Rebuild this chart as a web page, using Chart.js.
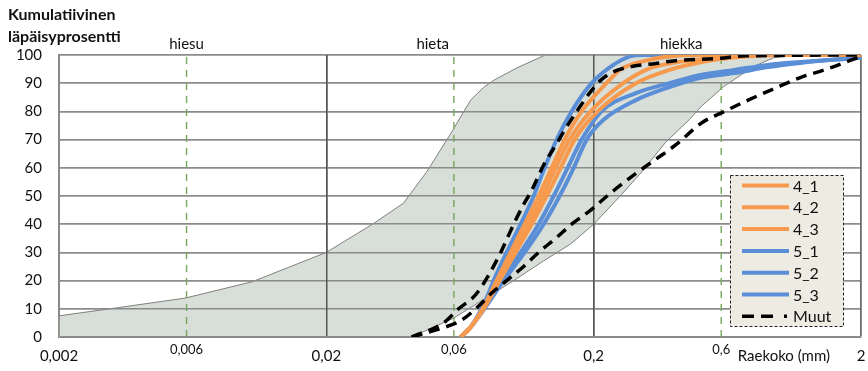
<!DOCTYPE html>
<html>
<head>
<meta charset="utf-8">
<script src="https://cdn.jsdelivr.net/npm/chart.js@4.4.1/dist/chart.umd.min.js"></script>
<style>
  html, body { margin: 0; padding: 0; background: #ffffff; }
  #wrap { width: 868px; height: 371px; position: relative; }
</style>
</head>
<body>
<div id="wrap"><canvas id="grading" width="868" height="371"></canvas></div>
<script>
// ---- Grain size distribution data: size in mm, cumulative passing in % ----

// Envelope (ohjealue) boundaries
const bandFineSize = [0.002, 0.00338, 0.00593, 0.01057, 0.02, 0.0301, 0.0389, 0.0475, 0.0583, 0.0693, 0.0775, 0.0845, 0.103, 0.132];
const bandFinePass = [7.5, 10.5, 13.8, 19.6, 30, 40.3, 47.5, 58.6, 72, 84, 88.5, 91, 95.4, 100];
const bandCoarseSize = [0.0417, 0.0599, 0.0796, 0.1004, 0.130, 0.1641, 0.200, 0.2514, 0.3055, 0.3713, 0.455, 0.508, 0.617, 0.796, 0.943, 1.186];
const bandCoarsePass = [0, 6.7, 14, 20, 27, 33, 40, 50, 59, 69, 77, 82, 89, 96, 99, 100];

// Samples 4_1 ... 4_3
const size41 = [0.0636, 0.0693, 0.0769, 0.0867, 0.0978, 0.1104, 0.1245, 0.1393, 0.1558, 0.1804, 0.2233, 0.2535, 0.3134, 0.3841, 0.508, 2];
const pass41 = [0, 3.5, 10, 20, 30, 40, 50, 60, 70, 80, 90, 95, 98, 99.5, 100, 100];
const size42 = [0.0636, 0.0693, 0.0775, 0.0882, 0.1004, 0.1143, 0.1289, 0.1442, 0.1627, 0.1949, 0.2579, 0.3188, 0.3841, 0.508, 0.776, 2];
const pass42 = [0, 3.5, 10, 20, 30, 40, 50, 60, 70, 80, 90, 95, 97, 98.5, 100, 100];
const size43 = [0.0636, 0.0693, 0.0775, 0.089, 0.1021, 0.1173, 0.1334, 0.1505, 0.1698, 0.2069, 0.2879, 0.3841, 0.508, 0.655, 1.0, 2];
const pass43 = [0, 3.5, 10, 20, 30, 40, 50, 60, 70, 80, 90, 94.7, 97.5, 99, 100, 100];

// Samples 5_1 ... 5_3
const size51 = [0.0636, 0.0693, 0.0756, 0.081, 0.0845, 0.0945, 0.1066, 0.1193, 0.1311, 0.1454, 0.1655, 0.1966, 0.2369, 0.2737, 0.3055, 2];
const pass51 = [0, 3.5, 9.5, 15.6, 20, 30, 40, 50, 60, 70, 80, 90, 96.5, 99.5, 100, 100];
const size52 = [0.0636, 0.0693, 0.0775, 0.0905, 0.1066, 0.1245, 0.1417, 0.1599, 0.1804, 0.214, 0.2879, 0.3841, 0.508, 0.672, 0.896, 1.186, 1.568, 2];
const pass52 = [0, 3.5, 10, 20, 30, 40, 50, 60, 70, 80, 86.5, 90, 93, 94.7, 96.5, 97.5, 98.3, 99];
const size53 = [0.0636, 0.0693, 0.078, 0.0921, 0.1104, 0.130, 0.1492, 0.1684, 0.1883, 0.2177, 0.2879, 0.3841, 0.508, 0.672, 0.896, 1.186, 1.568, 2];
const pass53 = [0, 3.5, 10, 20, 30, 40, 50, 60, 70, 77, 84, 88.6, 92, 93.6, 95.7, 97.2, 98.3, 99];

// Other samples (Muut)
const sizeMuutA = [0.0417, 0.0549, 0.0625, 0.0724, 0.081, 0.0898, 0.1004, 0.1094, 0.1173, 0.130, 0.1442, 0.1572, 0.1758, 0.1949, 0.2122, 0.2369, 0.2807, 0.3411, 0.4041, 0.5867, 0.7439, 2];
const passMuutA = [0, 5, 10, 15, 22, 30, 40, 47, 52, 61, 68, 74, 81, 87, 91, 94, 96, 97, 98, 98.8, 99.7, 100];
const sizeMuutB = [0.0417, 0.0535, 0.0642, 0.0743, 0.0831, 0.0945, 0.1094, 0.1245, 0.1442, 0.1655, 0.1949, 0.231, 0.2879, 0.3411, 0.4041, 0.508, 0.6173, 0.7566, 0.9431, 1.186, 1.4905, 1.8113, 2];
const passMuutB = [0, 3, 6, 11, 15.6, 20, 25, 30, 35, 40, 45, 51, 58, 63, 68, 76, 80, 84, 88, 92, 95, 98, 99.5];

// Soil class limits and names
const zoneLimits = [0.006, 0.06, 0.6];
const zoneNames = ['hiesu', 'hieta', 'hiekka'];
const zoneNameAt = [0.006, 0.05, 0.425];

// Axis ticks
const xTickValues = [0.002, 0.006, 0.02, 0.06, 0.2, 0.6, 2];
const xTickLabels = ['0,002', '0,006', '0,02', '0,06', '0,2', '0,6', '2'];
const xSmallTicks = [0.006, 0.06, 0.6];
const xDecades = [0.02, 0.2];
const yTitle = ['Kumulatiivinen', 'läpäisyprosentti'];
const xTitle = 'Raekoko (mm)';

// ---- helpers ----
const pts = (xs, ys) => xs.map((x, i) => ({ x: x, y: ys[i] }));
const FONT = 'Lato, "Open Sans", sans-serif';
const ORANGE = '#F79A4E';
const BLUE = '#5A8ED6';
const tickText = (v) => xTickLabels[xTickValues.indexOf(v)];

// Envelope as a closed shape: along the bottom, up the fine limit, back down the coarse limit
const bandShape = [{ x: bandFineSize[0], y: 0 }]
  .concat(pts(bandFineSize, bandFinePass))
  .concat(pts(bandCoarseSize, bandCoarsePass).reverse());

const curve = (label, xs, ys, color) => ({
  label: label, data: pts(xs, ys), borderColor: color, backgroundColor: color,
  borderWidth: 4, pointRadius: 0, cubicInterpolationMode: 'monotone', fill: false, order: 1
});
const muut = (label, xs, ys, inLegend) => ({
  label: label, data: pts(xs, ys), borderColor: '#000000', borderWidth: 3.5,
  borderDash: [11, 7], pointRadius: 0, cubicInterpolationMode: 'monotone', fill: false,
  order: 0, inLegend: inLegend
});

const datasets = [
  curve('4_1', size41, pass41, ORANGE),
  curve('4_2', size42, pass42, ORANGE),
  curve('4_3', size43, pass43, ORANGE),
  curve('5_1', size51, pass51, BLUE),
  curve('5_2', size52, pass52, BLUE),
  curve('5_3', size53, pass53, BLUE),
  muut('Muut', sizeMuutA, passMuutA, true),
  muut('Muut', sizeMuutB, passMuutB, false)
];
zoneLimits.forEach(v => datasets.push({
  label: 'raja', data: [{ x: v, y: 0 }, { x: v, y: 100 }], borderColor: '#77A65A',
  borderWidth: 1.4, borderDash: [7, 6], pointRadius: 0, fill: false, order: 2, inLegend: false
}));
datasets.push({
  label: 'ohjealue', data: bandShape, borderColor: '#7f7f7f', borderWidth: 1,
  backgroundColor: '#D7DFD8', fill: 'shape', pointRadius: 0, tension: 0, order: 3,
  inLegend: false, isBand: true
});

// Grid lines are drawn again on top of the envelope fill, under the curves
const gridOverBand = {
  id: 'gridOverBand',
  afterDatasetDraw(chart, args) {
    if (chart.data.datasets[args.index].isBand) {
      chart.scales.y.drawGrid(chart.chartArea);
      chart.scales.x.drawGrid(chart.chartArea);
    }
  }
};

// Texts and the legend box
const annotations = {
  id: 'annotations',
  afterDraw(chart) {
    const ctx = chart.ctx;
    const xs = chart.scales.x;
    const area = chart.chartArea;
    ctx.save();
    ctx.fillStyle = '#111111';
    ctx.textBaseline = 'middle';

    ctx.font = 'bold 16px ' + FONT;
    ctx.textAlign = 'left';
    ctx.fillText(yTitle[0], 8, 15);
    ctx.fillText(yTitle[1], 8, 37);

    ctx.font = '15px ' + FONT;
    ctx.textAlign = 'center';
    zoneNames.forEach((n, i) => ctx.fillText(n, xs.getPixelForValue(zoneNameAt[i]), area.top - 11));

    // intermediate size labels sit a little higher than the decade labels
    ctx.font = '13px ' + FONT;
    xSmallTicks.forEach(v => ctx.fillText(tickText(v), xs.getPixelForValue(v), area.bottom + 13));

    ctx.font = '15px ' + FONT;
    ctx.textAlign = 'right';
    ctx.fillText(xTitle, xs.getPixelForValue(2) - 31, 356);

    // legend
    const items = chart.data.datasets.filter(d => d.inLegend !== false);
    const bx = 730, by = 175, bw = 113, bh = 151;
    ctx.fillStyle = '#EEECE2';
    ctx.fillRect(bx, by, bw, bh);
    ctx.setLineDash([3, 2]);
    ctx.lineWidth = 1;
    ctx.strokeStyle = '#222222';
    ctx.strokeRect(bx + 0.5, by + 0.5, bw, bh);
    ctx.font = '16px ' + FONT;
    ctx.textAlign = 'left';
    items.forEach((d, i) => {
      const y = by + 10.5 + i * 21.8;
      ctx.beginPath();
      ctx.setLineDash(d.borderDash ? [12, 7, 12, 11, 3] : []);
      ctx.lineWidth = d.borderWidth;
      ctx.strokeStyle = d.borderColor;
      ctx.moveTo(742, y);
      ctx.lineTo(789, y);
      ctx.stroke();
      ctx.fillStyle = '#111111';
      ctx.fillText(d.label, 793, y + 1);
    });
    ctx.restore();
  }
};

new Chart(document.getElementById('grading'), {
  type: 'line',
  data: { datasets: datasets },
  options: {
    responsive: false,
    animation: false,
    layout: { padding: { top: 55, right: 7, left: 0, bottom: 0 } },
    plugins: { legend: { display: false }, tooltip: { enabled: false }, title: { display: false } },
    scales: {
      x: {
        type: 'logarithmic',
        min: 0.002,
        max: 2,
        afterBuildTicks: (scale) => { scale.ticks = xTickValues.map(v => ({ value: v })); },
        afterFit: (scale) => { scale.height = 34; scale.paddingLeft = 0; scale.paddingRight = 0; },
        ticks: {
          autoSkip: false,
          maxRotation: 0,
          padding: 10,
          color: '#111111',
          callback: (value) => xSmallTicks.includes(value) ? '' : tickText(value),
          font: { family: FONT, size: 15 }
        },
        grid: {
          drawTicks: false,
          color: (c) => {
            const v = c.tick ? c.tick.value : null;
            if (xDecades.includes(v)) return '#555555';
            if (v === 2) return '#6a6a6a';
            if (v === 0.002) return '#8a8a8a';
            return 'rgba(0,0,0,0)';
          },
          lineWidth: 1.5
        },
        border: { display: true, color: '#8a8a8a', width: 2 }
      },
      y: {
        type: 'linear',
        min: 0,
        max: 100,
        afterFit: (scale) => { scale.width = 59; },
        ticks: { stepSize: 10, padding: 17, color: '#111111', font: { family: FONT, size: 15 } },
        grid: { drawTicks: false, color: '#8c8c8c', lineWidth: 1.6 },
        border: { display: true, color: '#8a8a8a', width: 2 }
      }
    }
  },
  plugins: [gridOverBand, annotations]
});
</script>
</body>
</html>
